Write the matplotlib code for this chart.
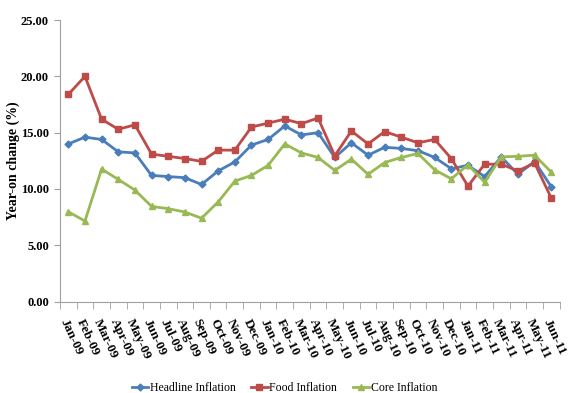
import matplotlib
matplotlib.use("Agg")
import matplotlib.pyplot as plt
import numpy as np

months = ["Jan-09", "Feb-09", "Mar-09", "Apr-09", "May-09", "Jun-09", "Jul-09", "Aug-09",
          "Sep-09", "Oct-09", "Nov-09", "Dec-09", "Jan-10", "Feb-10", "Mar-10", "Apr-10",
          "May-10", "Jun-10", "Jul-10", "Aug-10", "Sep-10", "Oct-10", "Nov-10", "Dec-10",
          "Jan-11", "Feb-11", "Mar-11", "Apr-11", "May-11", "Jun-11"]

headline = [14.0, 14.6, 14.4, 13.3, 13.2, 11.2, 11.1, 11.0, 10.4, 11.6, 12.4, 13.9,
            14.4, 15.6, 14.8, 15.0, 12.8, 14.1, 13.0, 13.7, 13.6, 13.4, 12.8, 11.8,
            12.1, 11.1, 12.85, 11.3, 12.45, 10.2]

food = [18.4, 20.0, 16.2, 15.3, 15.7, 13.1, 12.9, 12.7, 12.45, 13.45, 13.45, 15.5,
        15.85, 16.2, 15.8, 16.3, 12.95, 15.15, 14.0, 15.1, 14.6, 14.1, 14.4, 12.7,
        10.25, 12.2, 12.2, 11.6, 12.3, 9.2]

core = [7.97, 7.15, 11.77, 10.85, 9.9, 8.45, 8.25, 7.95, 7.4, 8.85, 10.7, 11.2,
        12.1, 14.0, 13.2, 12.8, 11.65, 12.65, 11.3, 12.35, 12.8, 13.15, 11.7, 10.9,
        12.15, 10.6, 12.85, 12.9, 13.0, 11.5]

y_ticks = [0, 5, 10, 15, 20, 25]

serif = ["Liberation Serif", "DejaVu Serif"]

fig = plt.figure(figsize=(5.69, 3.93), dpi=100)
ax = fig.add_axes([0.1054, 0.2328, 0.878, 0.716])

x = np.arange(len(months))
ax.plot(x, headline, color="#4a7ebb", lw=2, marker="D", ms=3.5, label="Headline Inflation")
ax.plot(x, food, color="#be4b48", lw=2, marker="s", ms=4, label="Food Inflation")
ax.plot(x, core, color="#98b954", lw=2, marker="^", ms=4, label="Core Inflation")

ax.set_xlim(-0.5, len(months) - 0.5)
ax.set_ylim(0, 25)
ax.set_yticks(y_ticks)
ax.set_yticklabels([f"{v:.2f}" for v in y_ticks], fontfamily=serif,
                   fontweight="bold", fontsize=9)

ax.set_xticks(x)
ax.set_xticklabels(months, rotation=-65, ha="left", va="top", rotation_mode="anchor",
                   fontfamily=serif, fontweight="bold", fontsize=9.5)
ax.tick_params(axis="x", which="major", length=0, pad=11)
ax.set_xticks(np.arange(-0.5, len(months), 1.0), minor=True)
ax.tick_params(axis="x", which="minor", length=5, color="#a0a0a0", direction="out")
ax.tick_params(axis="y", length=4, color="#a0a0a0", direction="out", pad=4)

for side in ("top", "right"):
    ax.spines[side].set_visible(False)
for side in ("left", "bottom"):
    ax.spines[side].set_color("#a0a0a0")

ax.set_ylabel("Year-on change (%)", fontfamily=serif, fontweight="bold", fontsize=10)
ax.yaxis.set_label_coords(-0.080, 0.5)

fig.legend(loc="center", bbox_to_anchor=(0.5, 0.013), ncol=3, frameon=False,
           prop={"family": serif, "size": 8.5}, handlelength=1.4, handletextpad=0.15,
           columnspacing=1.3, borderaxespad=0)

fig.savefig("out.png", dpi=100)
